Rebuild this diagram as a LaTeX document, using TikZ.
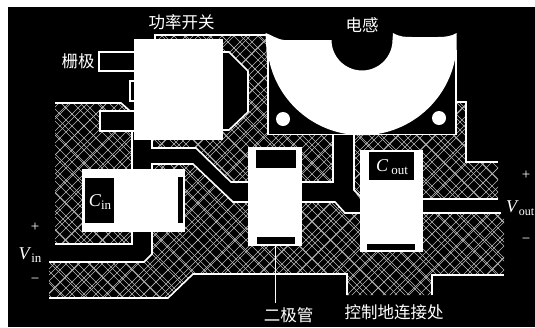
\documentclass[tikz,border=0pt]{standalone}
\usepackage{fontspec}
\setmainfont{Liberation Serif}
\newfontfamily\cjkfont{Noto Sans CJK SC}
\newcommand{\hatchfill}[1]{%
  \begin{scope}
    \clip #1;
    \foreach \d in {-330,-318,...,860}{
      \draw[hatchline] (\d,0) -- ++(330,330);
      \draw[hatchline] (\d,0) -- ++(-330,330);
    }
    \foreach \d in {-327,-308,...,860}{
      \draw[hatchline] (\d,0) -- ++(330,330);
      \draw[hatchline] (\d+5,0) -- ++(-330,330);
    }
  \end{scope}}
\tikzset{
  hatchline/.style={draw=white!72!black,line width=0.55pt},
  edge/.style={draw=white,line width=1.6pt,line cap=butt,line join=miter},
  solid white/.style={fill=white,draw=none},
  hole/.style={fill=black,draw=none},
  cjklabel/.style={text=white,font=\cjkfont\fontsize{16.5}{17}\selectfont,inner sep=0pt},
  mathlabel/.style={text=white,font=\fontsize{18}{19}\selectfont,inner sep=0pt},
  sign/.style={text=white,font=\fontsize{15}{16}\selectfont,inner sep=0pt},
  lead/.style={draw=white,line width=1pt}
}
\begin{document}
\begin{tikzpicture}[x=1pt,y=-1pt]
\useasboundingbox (0,0) rectangle (535,327);
\fill[white] (0,0) rectangle (535,327);
\fill[black] (8,7) rectangle (535,327);
% hatched copper
\hatchfill{(155,35) -- (268,35) -- (268,135) -- (333,135) -- (333,183) -- (231,183) -- (196,148) -- (152,148) -- (152,139) -- (155,139) -- cycle}
\hatchfill{(354,135) -- (457,135) -- (457,102) -- (466,102) -- (466,162) -- (498,162) -- (498,199) -- (400,199) -- (360,199) -- (354,191) -- cycle}
\hatchfill{(55,103) -- (121,103) -- (130,112) -- (132,131) -- (132,244) -- (55,244) -- cycle}
\hatchfill{(49,262) -- (144,262) -- (152,254) -- (152,164) -- (193,164) -- (233,202) -- (335,202) -- (345,213) -- (504,213) -- (504,275) -- (432,275) -- (432,295) -- (347,295) -- (347,274) -- (193,274) -- (168,298) -- (49,298) -- cycle}
% copper outlines
\draw[edge] (155,39) -- (155,35) -- (268,35);
\draw[edge] (152,139) -- (152,148) -- (196,148) -- (231,182) -- (333,182) -- (333,135);
\draw[edge] (354,135) -- (354,190) -- (361,197);
\draw[edge] (456,102) -- (466,102) -- (466,162) -- (498,162);
\draw[edge] (423,199) -- (498,199);
\draw[edge] (55,103) -- (121,103) -- (130,111);
\draw[edge] (132,131) -- (132,244) -- (55,244);
\draw[edge] (49,262) -- (144,262) -- (152,254) -- (152,232);
\draw[edge] (152,169) -- (152,164) -- (193,164) -- (233,202) -- (248,202);
\draw[edge] (302,202) -- (335,202) -- (345,213) -- (360,213);
\draw[edge] (423,213) -- (501,213);
\draw[edge] (504,275) -- (432,275) -- (432,295);
\draw[edge] (347,295) -- (347,274) -- (193,274) -- (168,298) -- (49,298);
% gate and source tabs
\draw[edge,fill=black] (136,52) -- (99,52) -- (99,71) -- (136,71);
\draw[edge,fill=black] (136,81) -- (130,81) -- (130,101) -- (136,101);
\draw[edge,fill=black] (136,111) -- (100,111) -- (100,131) -- (136,131);
% drain area
\draw[edge,fill=black] (222,52) -- (229,52) -- (248,71) -- (248,112) -- (229,130) -- (222,130);
% power switch body
\fill[solid white] (134,39) rectangle (223,140);
% inductor
\draw[edge,fill=black] (268,50) -- (268,134.5) -- (456,134.5) -- (456,50);
\fill[solid white] (265.5,33) .. controls (272,35) and (276,39) .. (284,40) -- (331.5,40)
  arc[start angle=180,end angle=0,radius=30.5] -- (393,33)
  .. controls (400,37) and (405,37) .. (412,37) -- (438,37)
  .. controls (446,37) and (452,36) .. (456.5,33) -- (456.5,60)
  -- (454.9,60) arc[start angle=12,end angle=168,radius=95] -- (267,60) -- cycle;
\fill[solid white] (283,119) circle[radius=7];
\fill[solid white] (439,118) circle[radius=7];
% input capacitor
\fill[solid white] (82,169) rectangle (185,232);
\fill[hole] (85,178) rectangle (114,223);
\fill[hole] (178,177) rectangle (183,223);
% diode
\fill[solid white] (248,147) rectangle (302,246);
\fill[hole] (256,150) rectangle (296,168);
\fill[hole] (257,237) rectangle (295,244);
% output capacitor
\fill[solid white] (360,150) rectangle (423,252);
\fill[hole] (369,152) rectangle (414,180);
\fill[hole] (367,244) rectangle (415,250);
% labels
\node[cjklabel] (switchlbl) at (181.5,22) {功率开关};
\node[cjklabel] (inductorlbl) at (362,25) {电感};
\node[cjklabel] (gatelbl) at (78,61.5) {栅极};
\node[cjklabel] (diodelbl) at (288.5,315) {二极管};
\node[cjklabel] (groundlbl) at (394,312) {控制地连接处};
\coordinate (diodefoot) at (275,246);
\coordinate (leadend) at (275,303);
\draw[lead] (diodefoot) -- (leadend);
\node[mathlabel] (cinlbl) at (100,202) {\textit{C}\fontsize{13}{14}\selectfont\raisebox{-3pt}{in}};
\node[mathlabel] (coutlbl) at (392,167) {\textit{C}\,\fontsize{13}{14}\selectfont\raisebox{-3pt}{out}};
\node[sign] (vinplus) at (35,227) {+};
\node[mathlabel] (vinlbl) at (30,255) {\textit{V}\fontsize{13}{14}\selectfont\raisebox{-3pt}{in}};
\node[sign] (vinminus) at (35,281) {−};
\node[sign] (voutplus) at (526,175) {+};
\node[mathlabel,anchor=west] (voutlbl) at (506,208) {\textit{V}\fontsize{12}{13}\selectfont\raisebox{-3pt}{out}};
\node[sign] (voutminus) at (526,241) {−};
\end{tikzpicture}
\end{document}
